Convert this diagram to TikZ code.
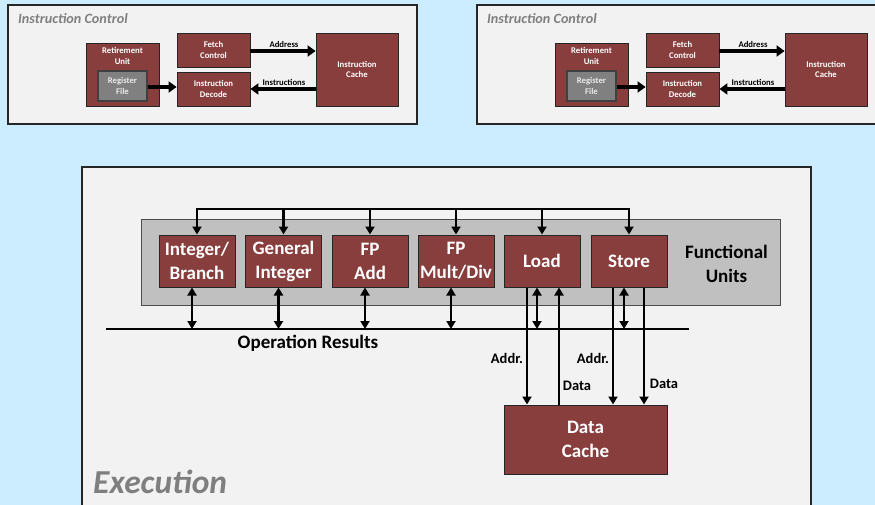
\documentclass[tikz,border=0pt]{standalone}
\usepackage{fontspec}
\setmainfont{Carlito}
\usetikzlibrary{arrows.meta}
\definecolor{bgblue}{RGB}{204,236,255}
\definecolor{panel}{RGB}{242,242,242}
\definecolor{maroon}{RGB}{137,62,62}
\definecolor{fugray}{RGB}{192,192,192}
\definecolor{regray}{RGB}{128,128,128}
\definecolor{titlegray}{RGB}{127,127,127}
\tikzset{
  panelbox/.style={draw=black!85, line width=2pt, fill=panel},
  unitbox/.style={draw=black!85, line width=1pt, fill=maroon, text=white,
    font=\bfseries\fontsize{19}{24}\selectfont, align=center,
    minimum width=76pt, minimum height=52pt, inner sep=0pt},
  smallbox/.style={draw=black!85, line width=0.8pt, fill=maroon, text=white,
    font=\bfseries\fontsize{8.7}{10.8}\selectfont, align=center, inner sep=0pt},
  smalltxt/.style={font=\bfseries\fontsize{8.7}{10.8}\selectfont, align=center, inner sep=0pt},
  midtxt/.style={font=\bfseries\fontsize{19}{23.5}\selectfont, align=center, inner sep=0pt},
  tagtxt/.style={font=\bfseries\fontsize{14.5}{16}\selectfont, inner sep=0pt},
  bigarrow/.style={line width=3.6pt, -{Triangle[width=11pt,length=8pt]}},
  busline/.style={line width=2.8pt},
  arr/.style={line width=2.8pt, -{Triangle[width=9pt,length=8pt]}},
  dblarr/.style={line width=2.8pt, {Triangle[width=9pt,length=8pt]}-{Triangle[width=9pt,length=8pt]}},
}
\begin{document}
\begin{tikzpicture}[x=1pt, y=-1pt]
  % page background
  \fill[bgblue] (0,0) rectangle (875,505);
  \useasboundingbox (0,0) rectangle (875,505);

  % the two instruction-control panels
  \foreach \dx/\p in {0/L,469/R}{
    \begin{scope}[xshift=\dx]
      \draw[panelbox] (8,5) rectangle (417,124);
      \node[anchor=base west, text=titlegray, inner sep=0pt,
        font=\bfseries\itshape\fontsize{14.2}{16}\selectfont] (\p title) at (18,24) {Instruction Control};
      \node[smallbox, minimum width=73pt, minimum height=63pt] (\p ret) at (122.5,74.5) {};
      \node[smalltxt, text=white, anchor=north] (\p rettxt) at (122.5,47) {Retirement\\Unit};
      \node[draw=black!75, line width=1.2pt, fill=regray, text=white!92!black,
        font=\bfseries\fontsize{8.7}{10.8}\selectfont, align=center, inner sep=0pt,
        minimum width=49pt, minimum height=30pt] (\p reg) at (122.5,86) {Register\\File};
      \node[smallbox, minimum width=73pt, minimum height=34pt] (\p fetch) at (213.5,50) {Fetch\\Control};
      \node[smallbox, minimum width=73pt, minimum height=34pt] (\p dec) at (213.5,89) {Instruction\\Decode};
      \node[smallbox, minimum width=82pt, minimum height=73pt] (\p cache) at (357,69.5) {Instruction\\Cache};
      \draw[bigarrow] (\p reg.east |- 0,87) -- (\p dec.west |- 0,87);
      \draw[bigarrow] (\p fetch.east |- 0,51) -- (\p cache.west |- 0,51);
      \draw[bigarrow] (\p cache.west |- 0,89) -- (\p dec.east |- 0,89);
      \node[smalltxt] (\p addr) at (284,44) {Address};
      \node[smalltxt] (\p instr) at (284,82) {Instructions};
    \end{scope}
  }

  % execution panel
  \draw[panelbox] (82,167) rectangle (811,520);
  \node[anchor=base west, text=titlegray, inner sep=0pt,
    font=\bfseries\itshape\fontsize{33.5}{38}\selectfont] (exec) at (93,493) {Execution};
  \fill[fugray, draw=black!70, line width=0.8pt] (141,219) rectangle (780,305);
  \node[midtxt, anchor=east] (fulabel) at (768,264) {Functional\\Units};

  % functional units
  \node[unitbox] (ib)  at (197,261)   {Integer/\\Branch};
  \node[unitbox] (gi)  at (283.5,261) {General\\Integer};
  \node[unitbox] (fa)  at (370,261)   {FP\\Add};
  \node[unitbox] (fm)  at (456,261)   {FP\\Mult/Div};
  \node[unitbox] (ld)  at (542,261)   {Load};
  \node[unitbox] (st)  at (629,261)   {Store};

  % issue bus feeding each unit from above
  \coordinate (busL) at (197,209);
  \coordinate (busR) at (629,209);
  \draw[busline, line cap=rect] (busL) -- (busR);
  \foreach \u in {ib,gi,fa,fm,ld,st}{
    \draw[arr] (\u.north |- busL) -- (\u.north);
  }

  % operation results bus
  \coordinate (resL) at (106,329);
  \coordinate (resR) at (689,329);
  \draw[busline] (resL) -- (resR);
  \node[midtxt] (reslabel) at (308,343) {Operation Results};
  \foreach \u in {ib,gi,fa,fm,ld,st}{
    \draw[dblarr] ([xshift=-5pt]\u.south) -- ([xshift=-5pt]\u.south |- resL);
  }

  % data cache and its links
  \node[unitbox, minimum width=163pt, minimum height=69pt] (dc) at (585.5,439.5) {Data\\Cache};
  \draw[arr] (ld.south -| 527,0) -- (dc.north -| 527,0);
  \draw[arr] (dc.north -| 559,0) -- (ld.south -| 559,0);
  \draw[arr] (st.south -| 613,0) -- (dc.north -| 613,0);
  \draw[arr] (st.south -| 644,0) -- (dc.north -| 644,0);
  \node[tagtxt] (a1) at (507,358) {Addr.};
  \node[tagtxt] (d1) at (577,386) {Data};
  \node[tagtxt] (a2) at (593,358) {Addr.};
  \node[tagtxt] (d2) at (664,384) {Data};
\end{tikzpicture}
\end{document}
